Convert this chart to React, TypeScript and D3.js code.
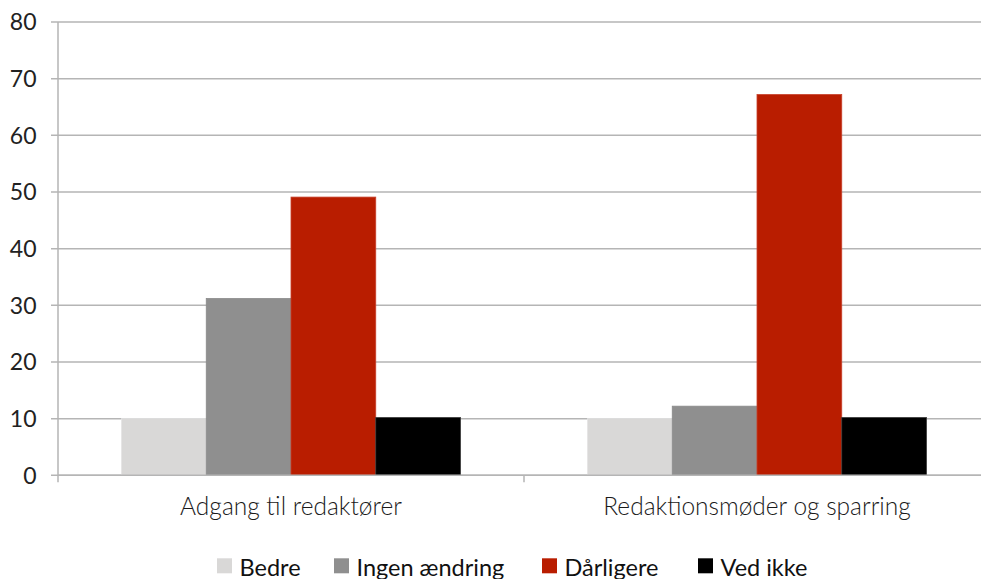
import React from "react";
import * as d3 from "d3";

const categories = ["Adgang til redaktører", "Redaktionsmøder og sparring"];
const seriesNames = ["Bedre", "Ingen ændring", "Dårligere", "Ved ikke"];
const bedre = [10, 10];
const ingenAendring = [31.2, 12.2];
const daarligere = [49.1, 67.2];
const vedIkke = [10.2, 10.2];
const yTicks = [0, 10, 20, 30, 40, 50, 60, 70, 80];

const seriesValues = [bedre, ingenAendring, daarligere, vedIkke];
const colors = ["#d9d8d7", "#8f8f8f", "#b91d00", "#000000"];
const strokes = ["#e4e4e4", "#8a8a8a", "#c7402a", "#3a3a3a"];

const W = 981;
const H = 579;
const left = 58;
const top = 22;
const bottom = 475.3;
const FONT = "Lato, 'Open Sans', sans-serif";

// legend square left edges
const legendSquares = [217, 334, 542, 698];

export default function App() {
  const x = d3.scaleBand<string>().domain(categories).range([left, left + 932]).padding(0);
  const inner = d3
    .scaleBand<string>()
    .domain(seriesNames)
    .range([63.5, x.bandwidth() - 63.5])
    .padding(0);
  const y = d3.scaleLinear().domain([0, 80]).range([bottom, top]);

  return (
    <svg width={W} height={H} style={{ position: "absolute", left: 0, top: 0, background: "#fff" }}>
      {/* horizontal gridlines and y tick labels */}
      {yTicks.map((t) => (
        <g key={t}>
          <line x1={51} x2={W} y1={y(t)} y2={y(t)} stroke="#b5b5b5" strokeWidth={1.5} />
          <text
            x={36.5}
            y={y(t)}
            dy="0.36em"
            textAnchor="end"
            fontFamily={FONT}
            fontSize={23}
            fill="#222"
          >
            {t}
          </text>
        </g>
      ))}
      {/* y axis line */}
      <line x1={left} x2={left} y1={top} y2={bottom + 7} stroke="#b5b5b5" strokeWidth={1.5} />
      {/* category separators */}
      {categories.map((c) => (
        <line
          key={c}
          x1={(x(c) as number) + x.bandwidth()}
          x2={(x(c) as number) + x.bandwidth()}
          y1={bottom}
          y2={bottom + 7}
          stroke="#b5b5b5"
          strokeWidth={1.5}
        />
      ))}
      {/* bars */}
      {categories.map((c, ci) =>
        seriesNames.map((s, si) => {
          const v = seriesValues[si][ci];
          const bx = (x(c) as number) + (inner(s) as number);
          return (
            <rect
              key={c + s}
              x={bx}
              y={y(v)}
              width={inner.bandwidth()}
              height={y(0) - y(v)}
              fill={colors[si]}
              stroke={strokes[si]}
              strokeWidth={0.8}
            />
          );
        })
      )}
      {/* x axis line on top of bars */}
      <line x1={left} x2={W} y1={bottom} y2={bottom} stroke="#b5b5b5" strokeWidth={1.5} />
      {/* category labels */}
      {categories.map((c) => (
        <text
          key={c}
          x={(x(c) as number) + x.bandwidth() / 2}
          y={515.3}
          textAnchor="middle"
          fontFamily={FONT}
          fontSize={24.5}
          fontWeight={300}
          fill="#1a1a1a"
        >
          {c}
        </text>
      ))}
      {/* legend */}
      {seriesNames.map((s, i) => (
        <g key={s}>
          <rect x={legendSquares[i]} y={558.3} width={15} height={15} fill={colors[i]} />
          <text
            x={legendSquares[i] + 22.5}
            y={576}
            fontFamily={FONT}
            fontSize={23.5}
            fill="#111"
          >
            {s}
          </text>
        </g>
      ))}
    </svg>
  );
}
